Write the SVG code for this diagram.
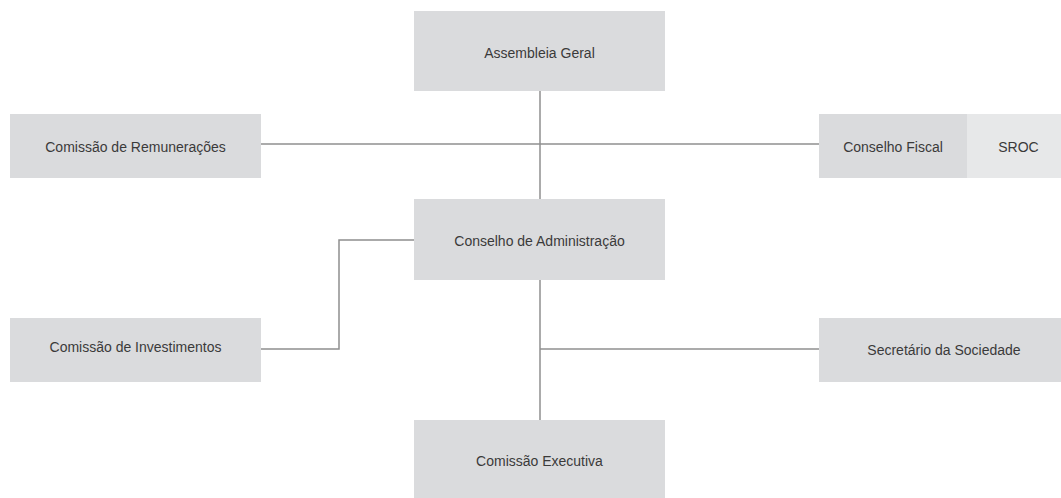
<svg xmlns="http://www.w3.org/2000/svg" width="1061" height="498" viewBox="0 0 1061 498">
<style>
.box{fill:#dadbdd}
.box2{fill:#e7e8e9}
.lbl{font-family:"Liberation Sans",Arial,sans-serif;font-size:14px;fill:#3a3a3a;text-anchor:middle}
.ln{fill:none;stroke:#8f8f8f;stroke-width:1.5}
</style>
<rect width="1061" height="498" fill="#ffffff"/>
<g id="connectors">
<path class="ln" d="M540 91 V199"/>
<path class="ln" d="M261 144 H819"/>
<path class="ln" d="M540 280 V420"/>
<path class="ln" d="M540 349 H819"/>
<path class="ln" d="M261 349 H339 V240 H414"/>
</g>
<g id="assembleia-geral"><rect class="box" x="414" y="11" width="251" height="80"/><text class="lbl" x="539.5" y="58">Assembleia Geral</text></g>
<g id="comissao-remuneracoes"><rect class="box" x="10" y="114" width="251" height="64"/><text class="lbl" x="135.5" y="152">Comissão de Remunerações</text></g>
<g id="conselho-fiscal"><rect class="box" x="819" y="114" width="148" height="64"/><text class="lbl" x="893" y="152">Conselho Fiscal</text></g>
<g id="sroc"><rect class="box2" x="967" y="114" width="94" height="64"/><text class="lbl" x="1018.5" y="152">SROC</text></g>
<g id="conselho-administracao"><rect class="box" x="414" y="199" width="251" height="81"/><text class="lbl" x="539.5" y="246">Conselho de Administração</text></g>
<g id="comissao-investimentos"><rect class="box" x="10" y="318" width="251" height="64"/><text class="lbl" x="135.5" y="352">Comissão de Investimentos</text></g>
<g id="secretario-sociedade"><rect class="box" x="819" y="318" width="242" height="64"/><text class="lbl" x="944" y="355">Secretário da Sociedade</text></g>
<g id="comissao-executiva"><rect class="box" x="414" y="420" width="251" height="78"/><text class="lbl" x="539.5" y="466">Comissão Executiva</text></g>
</svg>
